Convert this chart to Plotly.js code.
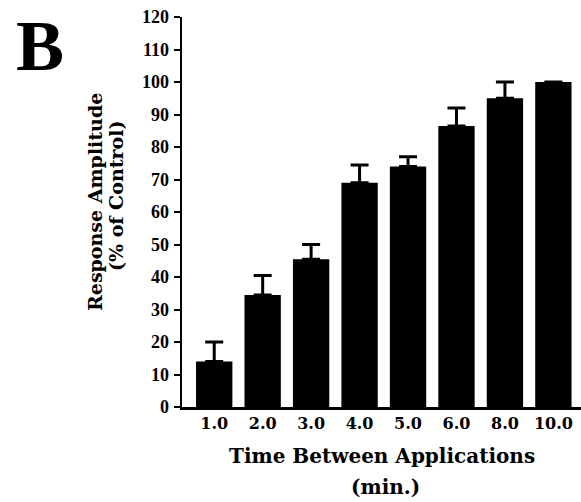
<!DOCTYPE html>
<html>
<head>
<meta charset="utf-8">
<script src="https://cdn.plot.ly/plotly-3.0.1.min.js"></script>
<style>html,body{margin:0;padding:0;background:#fff;}#chart{width:581px;height:502px;}</style>
</head>
<body>
<div id="chart"></div>
<script>
var categories = ["1.0", "2.0", "3.0", "4.0", "5.0", "6.0", "8.0", "10.0"];
var amplitude = [14, 34.5, 45.5, 69, 74, 86.5, 95, 100];
var errorPlus = [6, 6, 4.5, 5.5, 3, 5.5, 5, 0];
var yTickVals = [0, 10, 20, 30, 40, 50, 60, 70, 80, 90, 100, 110, 120];

var W = 581, H = 502;
var M = {l: 182, r: 0, t: 17, b: 95};
function px(x) { return (x - M.l) / (W - M.l - M.r); }
function py(y) { return (H - M.b - y) / (H - M.t - M.b); }

var serif = "DejaVu Serif";
var trace = {
  type: "bar",
  x: categories,
  y: amplitude,
  marker: {color: "#000", line: {width: 0}},
  error_y: {
    type: "data", symmetric: false, array: errorPlus,
    arrayminus: errorPlus.map(function () { return 0; }),
    color: "#000", thickness: 3, width: 9, visible: true
  },
  hoverinfo: "skip"
};

var layout = {
  width: W, height: H,
  margin: M,
  paper_bgcolor: "#fff", plot_bgcolor: "#fff",
  font: {family: serif, size: 15, color: "#000", weight: 700},
  bargap: 0.25,
  showlegend: false,
  xaxis: {
    type: "category",
    range: [-0.665, 7.57],
    showline: true, linecolor: "#000", linewidth: 2.5,
    ticks: "", showgrid: false, zeroline: false,
    tickfont: {family: serif, size: 16, color: "#000", weight: 800},
    ticklabelstandoff: 0
  },
  yaxis: {
    range: [0, 120],
    tickvals: yTickVals,
    showline: true, linecolor: "#000", linewidth: 2.5,
    ticks: "outside", ticklen: 6, tickwidth: 2, tickcolor: "#000",
    showgrid: false, zeroline: false,
    tickfont: {family: "Liberation Serif", size: 18, color: "#000", weight: 700},
    ticklabelstandoff: 1
  },
  annotations: [
    {text: "B", xref: "paper", yref: "paper", x: px(14), y: py(4), xanchor: "left", yanchor: "top",
     showarrow: false, font: {family: "Liberation Serif", size: 72, color: "#000", weight: 700}},
    {text: "Response Amplitude", xref: "paper", yref: "paper", x: px(95), y: py(202), textangle: -90,
     xanchor: "center", yanchor: "middle", showarrow: false, font: {family: serif, size: 19, color: "#000", weight: 700}},
    {text: "(% of Control)", xref: "paper", yref: "paper", x: px(116), y: py(196), textangle: -90,
     xanchor: "center", yanchor: "middle", showarrow: false, font: {family: serif, size: 19, color: "#000", weight: 700}},
    {text: "Time Between Applications", xref: "paper", yref: "paper", x: px(382), y: py(456),
     xanchor: "center", yanchor: "middle", showarrow: false, font: {family: serif, size: 20, color: "#000", weight: 700}},
    {text: "(min.)", xref: "paper", yref: "paper", x: px(385), y: py(487),
     xanchor: "center", yanchor: "middle", showarrow: false, font: {family: serif, size: 20, color: "#000", weight: 700}}
  ]
};

Plotly.newPlot("chart", [trace], layout, {displayModeBar: false, staticPlot: true});
</script>
</body>
</html>
